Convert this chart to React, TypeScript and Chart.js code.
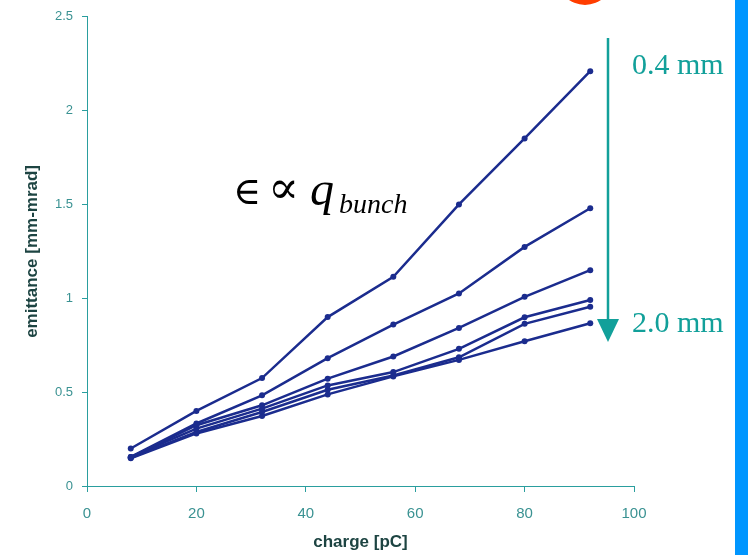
import React, { useEffect, useRef } from "react";
import { Chart, registerables } from "chart.js";

Chart.register(...registerables);

const charge = [8, 20, 32, 44, 56, 68, 80, 92];
const series1 = [0.2, 0.4, 0.575, 0.9, 1.115, 1.5, 1.852, 2.21];
const series2 = [0.155, 0.333, 0.483, 0.681, 0.86, 1.026, 1.274, 1.48];
const series3 = [0.152, 0.324, 0.43, 0.572, 0.69, 0.842, 1.008, 1.15];
const series4 = [0.155, 0.306, 0.412, 0.536, 0.607, 0.731, 0.899, 0.991];
const series5 = [0.15, 0.288, 0.394, 0.513, 0.589, 0.686, 0.864, 0.955];
const series6 = [0.148, 0.28, 0.373, 0.488, 0.584, 0.672, 0.771, 0.867];
const allSeries = [series1, series2, series3, series4, series5, series6];

const xTitle = "charge [pC]";
const yTitle = "emittance [mm-mrad]";
const topLabel = "0.4 mm";
const bottomLabel = "2.0 mm";

const LINE = "#1b2c8e";
const TEAL = "#12a09a";
const AXIS = "#2a9e9e";
const TICK_TXT = "#3a9292";
const TITLE_TXT = "#1d4442";

const decorPlugin = {
  id: "decor",
  afterDraw(chart: any) {
    const ctx = chart.ctx as CanvasRenderingContext2D;
    ctx.save();
    // right blue bar
    ctx.fillStyle = "#0096ff";
    ctx.fillRect(735, 0, 13, 555);
    // orange circle (partially visible)
    ctx.fillStyle = "#ff3d00";
    ctx.beginPath();
    ctx.arc(585, -23, 28, 0, Math.PI * 2);
    ctx.fill();
    // arrow
    ctx.strokeStyle = TEAL;
    ctx.lineWidth = 2.5;
    ctx.beginPath();
    ctx.moveTo(608, 38);
    ctx.lineTo(608, 322);
    ctx.stroke();
    ctx.fillStyle = TEAL;
    ctx.beginPath();
    ctx.moveTo(597, 319);
    ctx.lineTo(619, 319);
    ctx.lineTo(608, 342);
    ctx.closePath();
    ctx.fill();
    // labels
    ctx.fillStyle = TEAL;
    ctx.textBaseline = "alphabetic";
    ctx.textAlign = "left";
    ctx.font = '30px "Liberation Serif", "Times New Roman", serif';
    ctx.fillText(topLabel, 632, 74);
    ctx.fillText(bottomLabel, 632, 332);
    // formula
    ctx.fillStyle = "#000000";
    ctx.font = '38px "DejaVu Serif", "Liberation Serif", serif';
    ctx.fillText("\u2208", 233, 204);
    ctx.font = '46px "DejaVu Serif", "Liberation Serif", serif';
    ctx.fillText("\u221D", 268, 203);
    ctx.font = 'italic 48px "Liberation Serif", "Times New Roman", serif';
    ctx.fillText("q", 310, 205);
    ctx.font = 'italic 28px "Liberation Serif", "Times New Roman", serif';
    ctx.fillText("bunch", 339, 213);
    ctx.restore();
  },
};

export default function App() {
  const ref = useRef<HTMLCanvasElement | null>(null);
  useEffect(() => {
    if (!ref.current) return;
    const chart = new Chart(ref.current, {
      type: "line",
      data: {
        datasets: allSeries.map((s, i) => ({
          label: "s" + (i + 1),
          data: charge.map((x, j) => ({ x, y: s[j] })),
          borderColor: LINE,
          backgroundColor: LINE,
          borderWidth: 2.5,
          pointRadius: 3,
          pointBackgroundColor: LINE,
          pointBorderColor: LINE,
          pointBorderWidth: 0,
          tension: 0,
          fill: false,
        })),
      },
      options: {
        animation: false,
        responsive: false,
        devicePixelRatio: 1,
        layout: { padding: { top: 15, right: 114, left: 0, bottom: 0 } },
        plugins: { legend: { display: false }, tooltip: { enabled: false } },
        scales: {
          x: {
            type: "linear",
            min: 0,
            max: 100,
            ticks: {
              stepSize: 20,
              color: TICK_TXT,
              padding: 13,
              font: { family: '"Liberation Sans", Arial, sans-serif', size: 15 },
            },
            grid: { drawOnChartArea: false, drawTicks: true, tickLength: 6, color: AXIS },
            border: { display: true, color: AXIS, width: 1 },
            title: {
              display: true,
              text: xTitle,
              color: TITLE_TXT,
              padding: { top: 0, bottom: 2 },
              font: { family: '"Liberation Sans", Arial, sans-serif', size: 17, weight: "bold" },
            },
            afterFit(scale: any) {
              scale.height = 69;
            },
          },
          y: {
            min: 0,
            max: 2.5,
            ticks: {
              stepSize: 0.5,
              color: TICK_TXT,
              padding: 9,
              callback: (v: any) => String(Number(v)),
              font: { family: '"Liberation Sans", Arial, sans-serif', size: 13 },
            },
            grid: { drawOnChartArea: false, drawTicks: true, tickLength: 5, color: AXIS },
            border: { display: true, color: AXIS, width: 1 },
            title: {
              display: true,
              text: yTitle,
              color: TITLE_TXT,
              padding: { top: 22, bottom: 0 },
              font: { family: '"Liberation Sans", Arial, sans-serif', size: 17, weight: "bold" },
            },
            afterFit(scale: any) {
              scale.width = 87;
            },
          },
        },
      },
      plugins: [decorPlugin],
    });
    return () => chart.destroy();
  }, []);
  return (
    <div style={{ position: "fixed", left: 0, top: 0, width: 748, height: 555, background: "#ffffff" }}>
      <canvas ref={ref} width={748} height={555} style={{ width: 748, height: 555, display: "block" }} />
    </div>
  );
}
